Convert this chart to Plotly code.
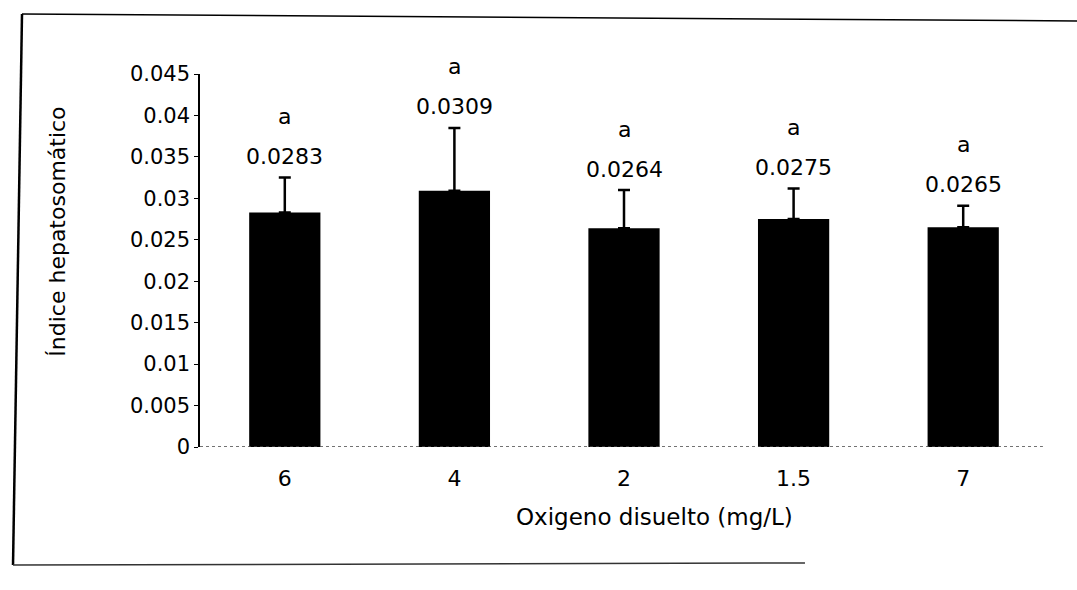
import plotly.graph_objects as go

categories = ["6", "4", "2", "1.5", "7"]
values = [0.0283, 0.0309, 0.0264, 0.0275, 0.0265]
errors = [0.0042, 0.0076, 0.0046, 0.0037, 0.0026]
value_labels = ["0.0283", "0.0309", "0.0264", "0.0275", "0.0265"]
letters = ["a", "a", "a", "a", "a"]
y_ticks = [0, 0.005, 0.01, 0.015, 0.02, 0.025, 0.03, 0.035, 0.04, 0.045]
y_tick_text = ["0", "0.005", "0.01", "0.015", "0.02", "0.025", "0.03", "0.035", "0.04", "0.045"]

FONT = "DejaVu Sans, Liberation Sans, sans-serif"

fig = go.Figure()
fig.add_trace(go.Bar(
    x=list(range(len(categories))), y=values,
    marker=dict(color="black", line=dict(color="black", width=0)),
    width=0.42,
    error_y=dict(type="data", array=errors, symmetric=False, arrayminus=[0] * len(values),
                 color="black", thickness=2.5, width=6, visible=True),
    showlegend=False,
))

annotations = []
for i, (v, e, lab, let) in enumerate(zip(values, errors, value_labels, letters)):
    annotations.append(dict(x=i, y=v + e, xref="x", yref="y", text=lab,
                            showarrow=False, yshift=21,
                            font=dict(family=FONT, size=22, color="black")))
    annotations.append(dict(x=i, y=v + e, xref="x", yref="y", text=let,
                            showarrow=False, yshift=61,
                            font=dict(family=FONT, size=22, color="black")))

# axis titles
annotations.append(dict(x=-0.168, y=0.576, xref="paper", yref="paper",
                        xanchor="center", yanchor="middle",
                        text="Índice hepatosomático", textangle=-90, showarrow=False,
                        font=dict(family=FONT, size=22, color="black")))
annotations.append(dict(x=0.536, y=-0.188, xref="paper", yref="paper",
                        xanchor="center", yanchor="middle",
                        text="Oxigeno disuelto (mg/L)", showarrow=False,
                        font=dict(family=FONT, size=23, color="black")))

fig.update_layout(
    width=1077, height=590,
    margin=dict(l=200, r=29, t=74, b=143),
    paper_bgcolor="white", plot_bgcolor="white",
    font=dict(family=FONT, size=22, color="black"),
    annotations=annotations,
    shapes=[
        # dotted baseline
        dict(type="line", xref="paper", yref="y", x0=0, x1=0.994, y0=0, y1=0,
             line=dict(color="#444444", width=1.5, dash="dot")),
        # outer frame pieces of the scanned chart
        dict(type="line", xref="paper", yref="paper", x0=-0.2099, x1=-0.2205, y0=1.1609, y1=-0.3164,
             line=dict(color="black", width=2.5)),
        dict(type="line", xref="paper", yref="paper", x0=-0.2099, x1=1.0342, y0=1.1609, y1=1.1421,
             line=dict(color="black", width=1.5)),
        dict(type="line", xref="paper", yref="paper", x0=-0.2205, x1=0.7134, y0=-0.3164, y1=-0.311,
             line=dict(color="#333333", width=1.5)),
    ],
)

fig.update_xaxes(
    range=[-0.5, len(categories) - 0.5],
    tickvals=list(range(len(categories))), ticktext=categories,
    showline=False, showgrid=False, zeroline=False, ticks="",
    ticklabelstandoff=16,
    tickfont=dict(family=FONT, size=22, color="black"),
)
fig.update_yaxes(
    range=[0, 0.045], tickvals=y_ticks, ticktext=y_tick_text,
    showline=True, linecolor="black", linewidth=1.5,
    showgrid=False, zeroline=False, ticks="outside", ticklen=4, tickcolor="black",
    tickfont=dict(family=FONT, size=21, color="black"),
)

fig.write_html("out.html")
